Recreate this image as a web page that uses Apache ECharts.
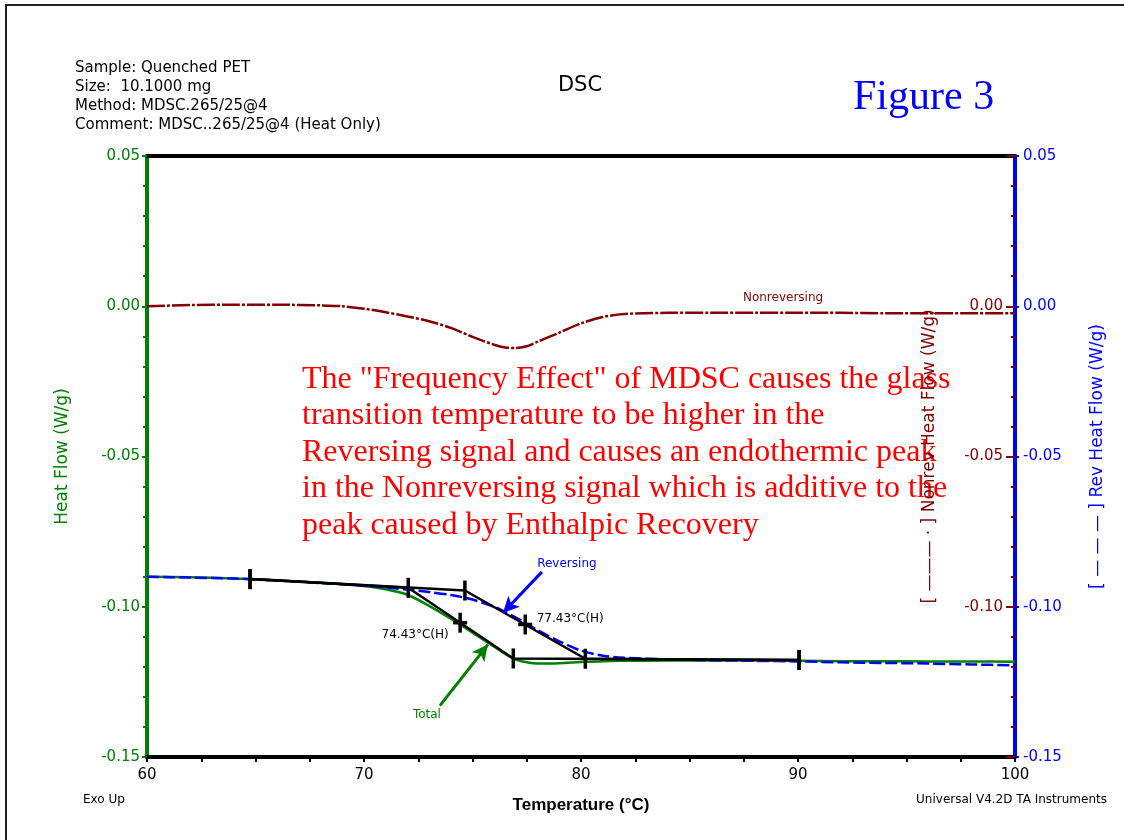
<!DOCTYPE html>
<html>
<head>
<meta charset="utf-8">
<title>DSC – Quenched PET</title>
<script src="https://cdn.jsdelivr.net/npm/echarts@6/dist/echarts.min.js"></script>
<style>
  html, body { margin: 0; padding: 0; background: #fff; }
  #chart { width: 1124px; height: 840px; }
</style>
</head>
<body>
<div id="chart"></div>
<script>
// Temperature grid (°C) shared by the three heat-flow signals
const temperature = [60, 62, 64, 66, 68, 69, 70, 71, 72, 73, 74, 75, 76, 76.5, 77, 77.5, 78, 79, 80, 81, 82, 84, 86, 88, 90, 92, 94, 96, 98, 100];
// Total heat flow (W/g)
const totalHeatFlow = [-0.0900, -0.0902, -0.0906, -0.0912, -0.0920, -0.0925, -0.0931, -0.0942, -0.0960, -0.0997, -0.1040, -0.1086, -0.1133, -0.1157, -0.1176, -0.1185, -0.1189, -0.1188, -0.1184, -0.1181, -0.1180, -0.1179, -0.1179, -0.1179, -0.1180, -0.1181, -0.1181, -0.1182, -0.1182, -0.1183];
// Reversing heat flow (W/g)
const reversingHeatFlow = [-0.0900, -0.0903, -0.0906, -0.0913, -0.0921, -0.0925, -0.0930, -0.0936, -0.0943, -0.0951, -0.0961, -0.0976, -0.1000, -0.1017, -0.1036, -0.1057, -0.1078, -0.1115, -0.1146, -0.1163, -0.1170, -0.1175, -0.1178, -0.1180, -0.1182, -0.1185, -0.1187, -0.1189, -0.1192, -0.1195];
// Nonreversing heat flow (W/g)
const nonreversingHeatFlow = [0.0000, 0.0004, 0.0005, 0.0005, 0.0003, 0.0000, -0.0008, -0.0020, -0.0034, -0.0050, -0.0072, -0.0102, -0.0128, -0.0137, -0.0139, -0.0133, -0.0118, -0.0088, -0.0057, -0.0036, -0.0026, -0.0022, -0.0022, -0.0022, -0.0022, -0.0022, -0.0023, -0.0023, -0.0023, -0.0023];

// Glass-transition construction lines (onset / end tangents)
const totalTangentT = [64.75, 72.04, 76.88, 90.05];
const totalTangentHF = [-0.0908, -0.0937, -0.1172, -0.1177];
const revTangentT = [64.75, 74.65, 80.20, 90.05];
const revTangentHF = [-0.0908, -0.0946, -0.1173, -0.1177];
// Half-height midpoints (Tg)
const midpointT = [74.43, 77.43];
const midpointHF = [-0.1053, -0.1059];

// Axis ranges
const tempMin = 60, tempMax = 100, tempStep = 10;
const hfMin = -0.15, hfMax = 0.05, hfStep = 0.05;

const headerLines = [
  'Sample: Quenched PET',
  'Size:  10.1000 mg',
  'Method: MDSC.265/25@4',
  'Comment: MDSC..265/25@4 (Heat Only)'
];
const noteLines = [
  'The "Frequency Effect" of MDSC causes the glass',
  'transition temperature to be higher in the',
  'Reversing signal and causes an endothermic peak',
  'in the Nonreversing signal which is additive to the',
  'peak caused by Enthalpic Recovery'
];

const SANS = '"DejaVu Sans", "Liberation Sans", sans-serif';
const SERIF = '"Liberation Serif", "DejaVu Serif", serif';
const GREEN = '#008000', BLUE = '#0000ff', BROWN = '#800000';

const zip = (xs, ys) => xs.map((x, i) => [x, ys[i]]);
const fmt = v => (Math.abs(v) < 1e-9 ? '0.00' : v.toFixed(2));

const chart = echarts.init(document.getElementById('chart'), null, { renderer: 'canvas' });

const option = {
  animation: false,
  backgroundColor: '#ffffff',
  grid: { left: 147, right: 109, top: 156, bottom: 83, containLabel: false },
  xAxis: [
    {
      type: 'value', min: tempMin, max: tempMax, interval: tempStep,
      name: 'Temperature (°C)', nameLocation: 'middle', nameGap: 40,
      nameTextStyle: { fontFamily: '"Liberation Sans", sans-serif', fontWeight: 'bold', fontSize: 17, color: '#000' },
      axisLine: { show: true, onZero: false, lineStyle: { color: '#000', width: 4 } },
      axisTick: { show: true, length: 5, lineStyle: { color: '#000', width: 2 } },
      minorTick: { show: true, splitNumber: 4, length: 5, lineStyle: { color: '#000', width: 2 } },
      axisLabel: { color: '#000', fontFamily: SANS, fontSize: 15, margin: 11 },
      splitLine: { show: false }
    },
    {
      type: 'value', position: 'top', min: tempMin, max: tempMax, interval: tempStep,
      axisLine: { show: true, onZero: false, lineStyle: { color: '#000', width: 4 } },
      axisTick: { show: false }, axisLabel: { show: false }, splitLine: { show: false }
    }
  ],
  yAxis: [
    {
      type: 'value', position: 'left', min: hfMin, max: hfMax, interval: hfStep,
      name: 'Heat Flow (W/g)', nameLocation: 'middle', nameGap: 76,
      nameTextStyle: { color: GREEN, fontFamily: SANS, fontSize: 17 },
      axisLine: { show: true, onZero: false, lineStyle: { color: GREEN, width: 4 } },
      axisTick: { show: true, length: 5, lineStyle: { color: GREEN, width: 2 } },
      minorTick: { show: true, splitNumber: 5, length: 4, lineStyle: { color: GREEN, width: 2 } },
      axisLabel: { color: GREEN, fontFamily: SANS, fontSize: 15, margin: 7, formatter: fmt },
      splitLine: { show: false }
    },
    {
      type: 'value', position: 'right', min: hfMin, max: hfMax, interval: hfStep,
      name: '[ ——— · ] Nonrev Heat Flow (W/g)', nameLocation: 'middle', nameGap: -94,
      nameTextStyle: { color: BROWN, fontFamily: SANS, fontSize: 17 },
      axisLine: { show: false },
      axisTick: { show: true, inside: true, length: 9, lineStyle: { color: BROWN, width: 2 } },
      minorTick: { show: true, splitNumber: 5, length: 4, lineStyle: { color: BROWN, width: 2 } },
      axisLabel: { inside: true, color: BROWN, fontFamily: SANS, fontSize: 15, margin: 12,
                   showMinLabel: false, showMaxLabel: false, formatter: fmt },
      splitLine: { show: false }
    },
    {
      type: 'value', position: 'right', min: hfMin, max: hfMax, interval: hfStep,
      name: '[ — — — ] Rev Heat Flow (W/g)', nameLocation: 'middle', nameGap: 74,
      nameTextStyle: { color: BLUE, fontFamily: SANS, fontSize: 17 },
      axisLine: { show: true, onZero: false, lineStyle: { color: BLUE, width: 4 } },
      axisTick: { show: true, length: 4, lineStyle: { color: BLUE, width: 2 } },
      minorTick: { show: false },
      axisLabel: { color: BLUE, fontFamily: SANS, fontSize: 15, margin: 8, formatter: fmt },
      splitLine: { show: false }
    }
  ],
  series: [
    {
      name: 'Nonreversing', type: 'line', yAxisIndex: 1, smooth: 0.3, showSymbol: false,
      data: zip(temperature, nonreversingHeatFlow),
      lineStyle: { color: BROWN, width: 2.5, type: [18, 2, 3, 2] },
      markPoint: {
        symbol: 'circle', symbolSize: 1, itemStyle: { color: 'rgba(0,0,0,0)' },
        label: { show: true, position: 'inside', color: BROWN, fontFamily: SANS, fontSize: 12, formatter: '{b}' },
        data: [{ name: 'Nonreversing', coord: [89.31, 0.0028] }]
      }
    },
    {
      name: 'Total', type: 'line', yAxisIndex: 0, smooth: 0.3, showSymbol: false,
      data: zip(temperature, totalHeatFlow),
      lineStyle: { color: GREEN, width: 2.5 },
      markPoint: {
        symbol: 'circle', symbolSize: 1, itemStyle: { color: 'rgba(0,0,0,0)' },
        label: { show: true, position: 'inside', color: GREEN, fontFamily: SANS, fontSize: 12, formatter: '{b}' },
        data: [{ name: 'Total', coord: [72.90, -0.1359] }]
      },
      markLine: {
        silent: true, symbol: ['none', 'arrow'], symbolSize: [12, 16], label: { show: false },
        lineStyle: { color: GREEN, width: 3, type: 'solid' },
        data: [[{ coord: [73.50, -0.1329] }, { coord: [75.71, -0.1126] }]]
      }
    },
    {
      name: 'Reversing', type: 'line', yAxisIndex: 2, smooth: 0.3, showSymbol: false,
      data: zip(temperature, reversingHeatFlow),
      lineStyle: { color: BLUE, width: 2.5, type: [12, 4] },
      markPoint: {
        symbol: 'circle', symbolSize: 1, itemStyle: { color: 'rgba(0,0,0,0)' },
        label: { show: true, position: 'inside', color: BLUE, fontFamily: SANS, fontSize: 12, formatter: '{b}' },
        data: [{ name: 'Reversing', coord: [79.35, -0.0857] }]
      },
      markLine: {
        silent: true, symbol: ['none', 'arrow'], symbolSize: [12, 16], label: { show: false },
        lineStyle: { color: BLUE, width: 3, type: 'solid' },
        data: [[{ coord: [78.20, -0.0884] }, { coord: [76.41, -0.1020] }]]
      }
    },
    {
      name: 'Total Tg construction', type: 'line', yAxisIndex: 0,
      data: zip(totalTangentT, totalTangentHF),
      symbol: 'rect', symbolSize: [3.5, 20], itemStyle: { color: '#000' },
      lineStyle: { color: '#000', width: 2.5 }
    },
    {
      name: 'Reversing Tg construction', type: 'line', yAxisIndex: 0,
      data: zip(revTangentT, revTangentHF),
      symbol: 'rect', symbolSize: [3.5, 20], itemStyle: { color: '#000' },
      lineStyle: { color: '#000', width: 2.5 }
    },
    {
      name: 'Tg midpoint', type: 'scatter', yAxisIndex: 0, z: 5,
      symbol: 'rect', symbolSize: [3.5, 20], itemStyle: { color: '#000', opacity: 1 },
      data: zip(midpointT, midpointHF).map((p, i) => ({
        value: p,
        label: {
          show: true, position: 'inside', color: '#000', fontFamily: SANS, fontSize: 12,
          offset: i === 0 ? [-45, 12] : [45, -6],
          formatter: () => p[0].toFixed(2) + '°C(H)'
        }
      }))
    },
    {
      // horizontal bar completing the "+" marker at each midpoint
      name: 'Tg midpoint cross', type: 'scatter', yAxisIndex: 0, z: 5,
      symbol: 'rect', symbolSize: [14, 3.5], itemStyle: { color: '#000', opacity: 1 },
      data: zip(midpointT, midpointHF)
    }
  ],
  graphic: [
    // page frame
    { type: 'line', shape: { x1: 5, y1: 5, x2: 1124, y2: 5 }, style: { stroke: '#222', lineWidth: 2 }, silent: true },
    { type: 'line', shape: { x1: 6, y1: 5, x2: 6, y2: 840 }, style: { stroke: '#222', lineWidth: 2 }, silent: true },
    // run header
    { type: 'text', x: 75, y: 59, silent: true,
      style: { text: headerLines.join('\n'), fill: '#000', font: '15px ' + SANS, lineHeight: 19 } },
    { type: 'text', x: 580, y: 86, silent: true,
      style: { text: 'DSC', fill: '#000', font: '21px ' + SANS, textAlign: 'center', textVerticalAlign: 'middle' } },
    { type: 'text', x: 853, y: 77, silent: true,
      style: { text: 'Figure 3', fill: BLUE, font: '42px ' + SERIF } },
    // explanatory note
    { type: 'text', x: 302, y: 361, silent: true,
      style: { text: noteLines.join('\n'), fill: '#ff0000', font: '32px ' + SERIF, lineHeight: 36.5 } },
    // footer
    { type: 'text', x: 83, y: 800, silent: true,
      style: { text: 'Exo Up', fill: '#000', font: '12px ' + SANS, textVerticalAlign: 'middle' } },
    { type: 'text', x: 1107, y: 800, silent: true,
      style: { text: 'Universal V4.2D TA Instruments', fill: '#000', font: '12px ' + SANS, textAlign: 'right', textVerticalAlign: 'middle' } }
  ]
};

chart.setOption(option);
</script>
</body>
</html>
